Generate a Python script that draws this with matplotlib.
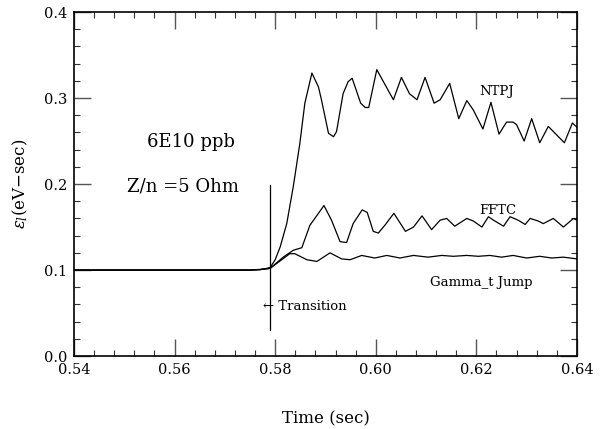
import numpy as np
import matplotlib
matplotlib.use('Agg')
import matplotlib.pyplot as plt
from matplotlib.ticker import MultipleLocator

plt.rcParams['font.family'] = 'DejaVu Serif'
plt.rcParams['mathtext.fontset'] = 'dejavuserif'

# NTPJ curve
ntpj_t = [0.540, 0.570, 0.575, 0.577, 0.578, 0.579, 0.580, 0.581, 0.5823, 0.5836, 0.5849, 0.5859,
          0.5873, 0.5886, 0.5892, 0.5906, 0.5916, 0.5922, 0.5935, 0.5945, 0.5953, 0.5970, 0.5979,
          0.5986, 0.6002, 0.6035, 0.6051, 0.6067, 0.6082, 0.6098, 0.6116, 0.6128, 0.6147,
          0.6165, 0.6181, 0.6194, 0.6213, 0.6229, 0.6245, 0.6260, 0.6273, 0.6280, 0.6295,
          0.6310, 0.6326, 0.6343, 0.6375, 0.6391, 0.6400]
ntpj_e = [0.100, 0.100, 0.100, 0.1008, 0.1015, 0.103, 0.112, 0.127, 0.154, 0.197, 0.247, 0.294,
          0.329, 0.313, 0.298, 0.259, 0.255, 0.261, 0.305, 0.319, 0.323, 0.294, 0.289,
          0.289, 0.333, 0.298, 0.324, 0.305, 0.298, 0.324, 0.294, 0.298, 0.317,
          0.276, 0.297, 0.286, 0.264, 0.295, 0.258, 0.272, 0.272, 0.269, 0.250,
          0.276, 0.248, 0.267, 0.248, 0.271, 0.266]

# FFTC curve
fftc_t = [0.540, 0.570, 0.575, 0.5770, 0.5790, 0.5816, 0.5836, 0.5853, 0.5869,
          0.5897, 0.5912, 0.5929, 0.5942, 0.5955, 0.5973, 0.5983, 0.5995, 0.6005, 0.6018,
          0.6036, 0.6059, 0.6075, 0.6092, 0.6111, 0.6128, 0.6141, 0.6157, 0.6181, 0.6194,
          0.6211, 0.6224, 0.6234, 0.6254, 0.6267, 0.6283, 0.6297, 0.6307, 0.6323, 0.6333,
          0.6353, 0.6373, 0.6393, 0.6400]
fftc_e = [0.100, 0.100, 0.100, 0.1005, 0.102, 0.115, 0.123, 0.126, 0.152,
          0.175, 0.158, 0.133, 0.132, 0.154, 0.170, 0.167, 0.145, 0.143, 0.152,
          0.166, 0.145, 0.150, 0.163, 0.147, 0.158, 0.160, 0.151, 0.160, 0.157,
          0.150, 0.162, 0.158, 0.151, 0.162, 0.158, 0.153, 0.160, 0.157, 0.154,
          0.160, 0.150, 0.160, 0.158]

# Gamma_t Jump curve
gamma_t = [0.540, 0.570, 0.575, 0.5770, 0.5790, 0.5813, 0.5829, 0.5839, 0.5863, 0.5883,
           0.5909, 0.5932, 0.5949, 0.5972, 0.5998, 0.6022, 0.6048, 0.6075, 0.6104, 0.6131,
           0.6154, 0.6181, 0.6204, 0.6227, 0.6250, 0.6273, 0.6300, 0.6326, 0.6350, 0.6373,
           0.6400]
gamma_e = [0.100, 0.100, 0.100, 0.1005, 0.102, 0.112, 0.119, 0.119, 0.112, 0.110,
           0.120, 0.113, 0.112, 0.117, 0.114, 0.117, 0.114, 0.117, 0.115, 0.117,
           0.116, 0.117, 0.116, 0.117, 0.115, 0.117, 0.114, 0.116, 0.114, 0.115,
           0.113]

transition_t = 0.579

fig = plt.figure(figsize=(6.01, 4.29), dpi=100)
ax = fig.add_axes([0.1231, 0.170, 0.8369, 0.802])

for t, e in [(ntpj_t, ntpj_e), (fftc_t, fftc_e), (gamma_t, gamma_e)]:
    ax.plot(t, e, color='black', lw=0.9)

# transition marker
ax.plot([transition_t, transition_t], [0.03, 0.199], color='black', lw=0.9)

ax.text(0.5545, 0.249, '6E10 ppb', fontsize=13, va='center')
ax.text(0.5505, 0.197, 'Z/n =5 Ohm', fontsize=13, va='center')
ax.text(0.6205, 0.308, 'NTPJ', fontsize=9.5, va='center')
ax.text(0.6205, 0.169, 'FFTC', fontsize=9.5, va='center')
ax.text(0.6108, 0.086, 'Gamma_t Jump', fontsize=9.5, va='center')
ax.text(0.5776, 0.058, '\u2190 Transition', fontsize=9.5, va='center')

ax.set_xlim(0.54, 0.64)
ax.set_ylim(0.0, 0.4)
ax.xaxis.set_major_locator(MultipleLocator(0.02))
ax.xaxis.set_minor_locator(MultipleLocator(0.004))
ax.yaxis.set_major_locator(MultipleLocator(0.1))
ax.yaxis.set_minor_locator(MultipleLocator(0.02))
ax.xaxis.set_major_formatter(plt.FormatStrFormatter('%.2f'))
ax.yaxis.set_major_formatter(plt.FormatStrFormatter('%.1f'))
ax.tick_params(which='both', direction='in', top=True, right=True, labelsize=10.5)
ax.tick_params(which='major', length=12, width=1, color='#555555', pad=5)
ax.tick_params(which='minor', length=4, width=0.8, color='#333333')
for s in ax.spines.values():
    s.set_linewidth(1.2)

ax.set_xlabel('Time (sec)', fontsize=12, labelpad=24)
ax.set_ylabel(r'$\epsilon_l$(eV$-$sec)', fontsize=12, labelpad=10)

fig.savefig('out.png', dpi=100)
